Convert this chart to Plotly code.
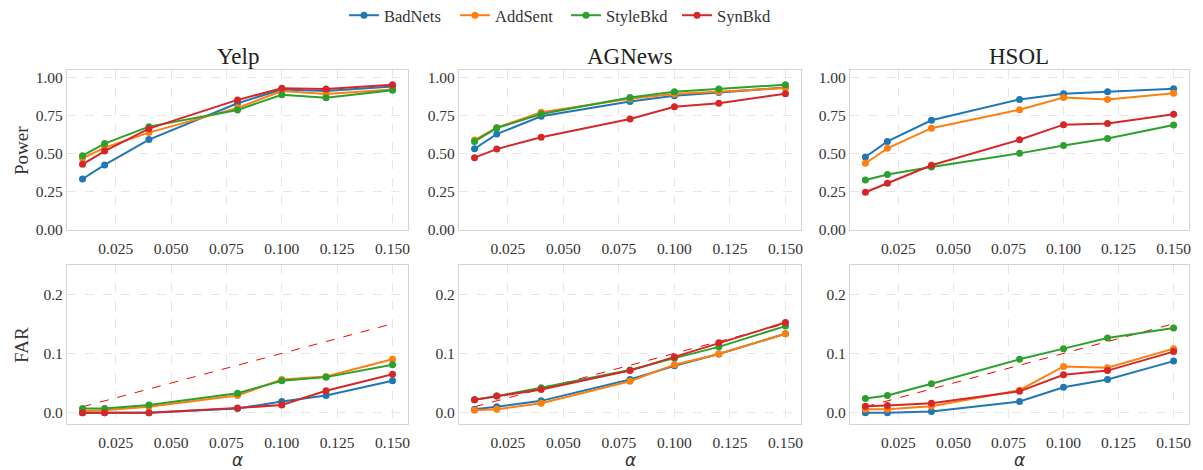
import plotly.graph_objects as go
from plotly.subplots import make_subplots

alpha = [0.01, 0.02, 0.04, 0.08, 0.10, 0.12, 0.15]
datasets = ["Yelp", "AGNews", "HSOL"]
methods = ["BadNets", "AddSent", "StyleBkd", "SynBkd"]
colors = ["#1f77b4", "#ff7f0e", "#2ca02c", "#d62728"]

# Power
yelp_power = {
    "BadNets":  [0.334, 0.426, 0.592, 0.830, 0.920, 0.910, 0.940],
    "AddSent":  [0.470, 0.540, 0.638, 0.800, 0.910, 0.890, 0.920],
    "StyleBkd": [0.487, 0.566, 0.677, 0.786, 0.886, 0.867, 0.915],
    "SynBkd":   [0.430, 0.517, 0.664, 0.852, 0.928, 0.924, 0.952],
}
agnews_power = {
    "BadNets":  [0.532, 0.628, 0.745, 0.842, 0.880, 0.900, 0.933],
    "AddSent":  [0.589, 0.671, 0.771, 0.860, 0.890, 0.905, 0.930],
    "StyleBkd": [0.580, 0.668, 0.760, 0.868, 0.905, 0.924, 0.952],
    "SynBkd":   [0.474, 0.530, 0.608, 0.727, 0.807, 0.830, 0.893],
}
hsol_power = {
    "BadNets":  [0.478, 0.580, 0.719, 0.855, 0.892, 0.905, 0.926],
    "AddSent":  [0.437, 0.535, 0.667, 0.788, 0.868, 0.855, 0.896],
    "StyleBkd": [0.327, 0.364, 0.413, 0.502, 0.554, 0.600, 0.688],
    "SynBkd":   [0.247, 0.307, 0.424, 0.591, 0.690, 0.697, 0.758],
}
# FAR
yelp_far = {
    "BadNets":  [0.000, 0.000, 0.000, 0.007, 0.019, 0.029, 0.054],
    "AddSent":  [0.003, 0.004, 0.010, 0.029, 0.056, 0.061, 0.090],
    "StyleBkd": [0.007, 0.007, 0.013, 0.033, 0.054, 0.060, 0.081],
    "SynBkd":   [0.000, 0.000, 0.000, 0.008, 0.013, 0.037, 0.065],
}
agnews_far = {
    "BadNets":  [0.006, 0.010, 0.020, 0.056, 0.079, 0.099, 0.133],
    "AddSent":  [0.004, 0.006, 0.016, 0.053, 0.081, 0.099, 0.133],
    "StyleBkd": [0.022, 0.028, 0.042, 0.072, 0.092, 0.111, 0.146],
    "SynBkd":   [0.022, 0.028, 0.039, 0.071, 0.094, 0.118, 0.152],
}
hsol_far = {
    "BadNets":  [0.000, 0.000, 0.002, 0.019, 0.043, 0.056, 0.087],
    "AddSent":  [0.006, 0.006, 0.011, 0.038, 0.078, 0.076, 0.108],
    "StyleBkd": [0.024, 0.029, 0.049, 0.090, 0.108, 0.126, 0.143],
    "SynBkd":   [0.011, 0.012, 0.016, 0.036, 0.064, 0.071, 0.103],
}
power = [yelp_power, agnews_power, hsol_power]
far = [yelp_far, agnews_far, hsol_far]

x_ticks = [0.025, 0.050, 0.075, 0.100, 0.125, 0.150]
power_ticks = [0.0, 0.25, 0.5, 0.75, 1.0]
far_ticks = [0.0, 0.1, 0.2]

serif = "Liberation Serif"
fig = make_subplots(rows=2, cols=3)

for c in range(3):
    for mi, m in enumerate(methods):
        fig.add_trace(go.Scatter(
            x=alpha, y=power[c][m], mode="lines+markers", name=m,
            line=dict(color=colors[mi], width=2), marker=dict(size=7, color=colors[mi]),
            showlegend=(c == 0), legendgroup=m), row=1, col=c + 1)
    fig.add_trace(go.Scatter(
        x=alpha, y=alpha, mode="lines", showlegend=False,
        line=dict(color="red", width=1, dash="dash")), row=2, col=c + 1)
    for mi, m in enumerate(methods):
        fig.add_trace(go.Scatter(
            x=alpha, y=far[c][m], mode="lines+markers", name=m,
            line=dict(color=colors[mi], width=2), marker=dict(size=7, color=colors[mi]),
            showlegend=False, legendgroup=m), row=2, col=c + 1)

# the page body has an 8px margin; size and place the figure to compensate
OFF = 8
FW, FH = 1203 - OFF, 470 - OFF
def px_x(X):
    return (X - OFF) / FW
def px_y(Y):
    return (FH - (Y - OFF)) / FH
def xd(a, b):
    return [px_x(a), px_x(b)]
def yd(top, bottom):
    return [px_y(bottom), px_y(top)]

xdoms = [xd(67, 408), xd(459, 801), xd(850, 1189)]
ydoms = [yd(70, 230), yd(265, 424)]

axis_common = dict(showline=True, mirror=True, linecolor="#d4d4d4", linewidth=1.2,
                   showgrid=True, gridcolor="#e6e6e6", griddash="dash", gridwidth=1,
                   zeroline=False, ticks="", tickfont=dict(family=serif, size=15.5, color="#333"))

for r in range(2):
    for c in range(3):
        fig.update_xaxes(row=r + 1, col=c + 1, domain=xdoms[c], range=[0.003, 0.157],
                         tickvals=x_ticks, ticktext=[f"{v:.3f}" for v in x_ticks],
                         ticklabelstandoff=4, ticklabeloverflow="allow", **axis_common)
        if r == 0:
            fig.update_yaxes(row=1, col=c + 1, domain=ydoms[0], range=[0, 1.048],
                             tickvals=power_ticks, ticktext=[f"{v:.2f}" for v in power_ticks], **axis_common)
        else:
            fig.update_yaxes(row=2, col=c + 1, domain=ydoms[1], range=[-0.019, 0.249],
                             tickvals=far_ticks, ticktext=[f"{v:.1f}" for v in far_ticks], **axis_common)

for c, name in enumerate(datasets):
    xc = (xdoms[c][0] + xdoms[c][1]) / 2
    fig.add_annotation(text=name, x=xc, y=ydoms[0][1],
                       xref="paper", yref="paper", xanchor="center", yanchor="bottom", yshift=-1,
                       showarrow=False, font=dict(family=serif, size=23, color="#222"))
    fig.add_annotation(text="<i>α</i>", x=xc, y=px_y(460), xref="paper", yref="paper",
                       xanchor="center", yanchor="middle", showarrow=False,
                       font=dict(family="DejaVu Sans", size=17, color="#333"))

fig.add_annotation(text="Power", x=px_x(21), y=px_y(150), xref="paper", yref="paper",
                   xanchor="center", yanchor="middle", textangle=-90, showarrow=False,
                   font=dict(family=serif, size=19, color="#333"))
fig.add_annotation(text="FAR", x=px_x(21), y=px_y(345), xref="paper", yref="paper",
                   xanchor="center", yanchor="middle", textangle=-90, showarrow=False,
                   font=dict(family=serif, size=19, color="#333"))

fig.update_layout(
    width=FW, height=FH, margin=dict(l=0, r=0, t=0, b=0, autoexpand=False),
    plot_bgcolor="white", paper_bgcolor="white",
    legend=dict(orientation="h", x=px_x(566), xanchor="center", y=1.0 + 10 / FH, yanchor="top",
                font=dict(family=serif, size=16.5, color="#333"), entrywidth=66,
                bgcolor="rgba(0,0,0,0)"),
)
fig.write_html("out.html")
